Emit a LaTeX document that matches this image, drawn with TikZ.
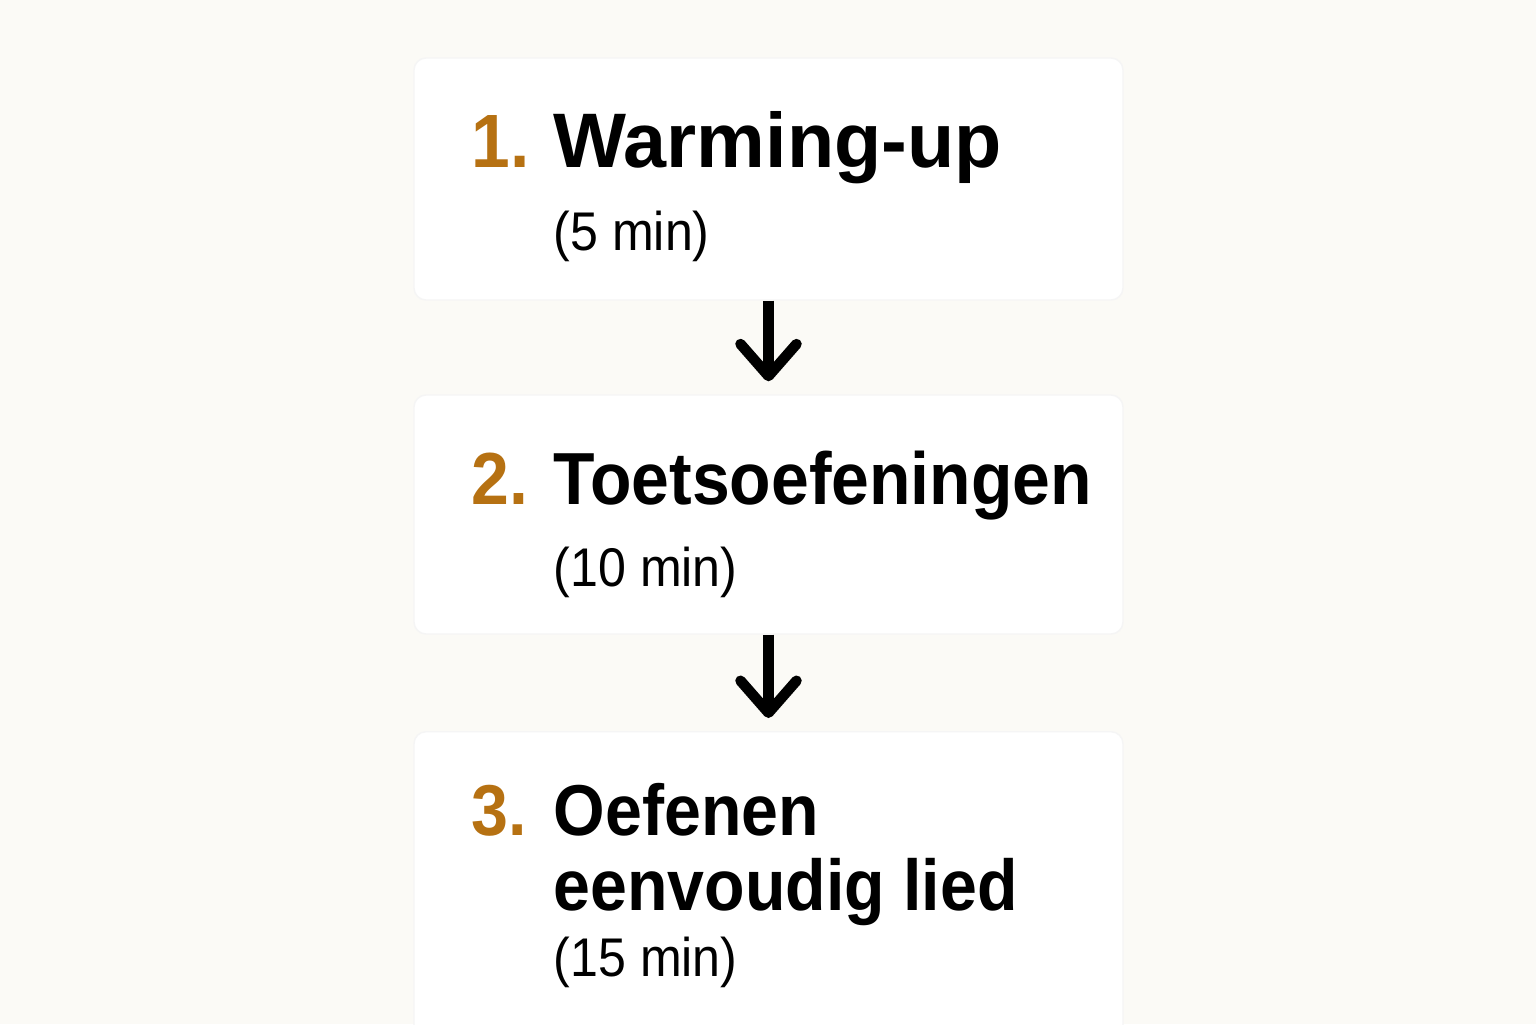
\documentclass[tikz,border=0pt]{standalone}
\usepackage{fontspec}
\setmainfont{Liberation Sans}[FakeStretch=0.92]
\newfontfamily\widesans{Liberation Sans}
\usetikzlibrary{positioning,arrows.meta}

\definecolor{paper}{RGB}{251,250,246}
\definecolor{amber}{RGB}{182,113,18}

\tikzset{
  card/.style={fill=white, draw=black!4, rounded corners=0.12cm, minimum width=7.09cm, inner sep=0},
  num/.style={anchor=base west, inner sep=0, text=amber, font=\bfseries\fontsize{#1}{25}\selectfont},
  ttl/.style={anchor=base west, inner sep=0, align=left, font=\bfseries\fontsize{#1}{21.3}\selectfont},
  sub/.style={anchor=base west, inner sep=0, font=\fontsize{15.5}{18}\selectfont},
  flow/.style={line width=0.105cm, shorten >=0.13cm, -{Straight Barb[round,length=0.32cm,width=0.56cm]}}
}

\begin{document}
\begin{tikzpicture}
\fill[paper] (0,0) rectangle (15.36,10.24);
\useasboundingbox (0,0) rectangle (15.36,10.24);
\clip (0,0) rectangle (15.36,10.24);

\def\xc{7.685}
\def\xn{4.71}
\def\xt{5.53}

\def\ya{8.56}
\def\yb{7.74}
\def\yc{5.20}
\def\yd{4.38}
\def\ye{1.89}
\def\yf{0.48}

% cards
\node[card, minimum height=2.42cm] (warm) at (\xc, 8.45) {};
\node[card, minimum height=2.39cm] (keys) at (\xc, 5.095) {};
\node[card, minimum height=3.2cm, anchor=north] (song) at (\xc, 2.93) {};

% texts
\node[num=21.5] (n1) at (\xn, \ya) {1.};
\node[ttl=22] (t1) at (\xt, \ya) {\widesans Warming-up};
\node[sub] (s1) at (\xt, \yb) {(5 min)};

\node[num=21] (n2) at (\xn, \yc) {2.};
\node[ttl=21] (t2) at (\xt, \yc) {Toetsoefeningen};
\node[sub] (s2) at (\xt, \yd) {(10 min)};

% last line sits on the base anchor
\node[num=20.5] (n3) at (\xn, \ye) {3.};
\node[ttl=20.5] (t3) at (\xt, 1.14) {Oefenen\\eenvoudig lied};
\node[sub] (s3) at (\xt, \yf) {(15 min)};

\draw[flow] (warm.south) -- (keys.north);
\draw[flow] (keys.south) -- (song.north);

\end{tikzpicture}
\end{document}
